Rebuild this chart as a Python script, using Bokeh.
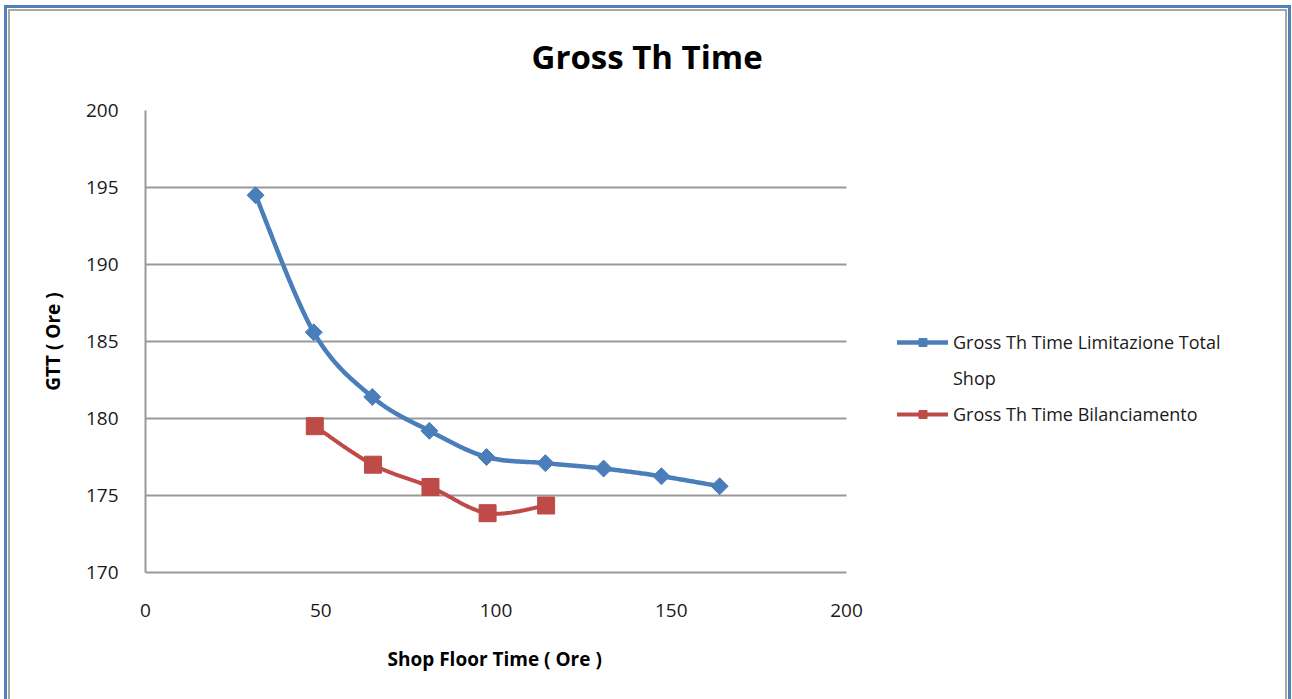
import numpy as np
from bokeh.plotting import figure
from bokeh.models import Legend, LegendItem, Range1d, SingleIntervalTicker, Title
from bokeh.embed import file_html
from bokeh.resources import INLINE

# ---- data ----
x_limit = [31.4, 48.0, 64.7, 81.0, 97.3, 114.1, 130.7, 147.2, 163.8]
y_limit = [194.5, 185.6, 181.4, 179.2, 177.5, 177.1, 176.75, 176.25, 175.6]
x_bil = [48.3, 64.9, 81.3, 97.6, 114.3]
y_bil = [179.5, 177.0, 175.55, 173.85, 174.35]
x_axis_range = (0, 200)
y_axis_range = (170, 200)

name_limit_1 = "Gross Th Time Limitazione Total"
name_limit_2 = "Shop"
name_bil = "Gross Th Time Bilanciamento"
title_text = "Gross Th Time"
x_title = "Shop Floor Time ( Ore )"
y_title = "GTT ( Ore )"

FONT = "Open Sans"
BLUE = "#4A7EBB"
RED = "#BE4B48"
GRID = "#999999"

# layout (pixels): plot area of the chart, and the wider frame that also hosts the legend
PLOT_LEFT, PLOT_RIGHT, PLOT_TOP, PLOT_BOTTOM = 145, 846, 110, 572
FRAME_RIGHT = 1284
W, H = 1292, 699


def smooth(xs, ys, n=40):
    """Excel-style smoothed line: cubic Bezier through the points."""
    xs = np.asarray(xs, float)
    ys = np.asarray(ys, float)
    px = np.concatenate([[xs[0]], xs, [xs[-1]]])
    py = np.concatenate([[ys[0]], ys, [ys[-1]]])
    ox, oy = [], []
    t = np.linspace(0, 1, n)
    for i in range(1, len(px) - 2):
        p0x, p0y = px[i], py[i]
        p3x, p3y = px[i + 1], py[i + 1]
        c1x = p0x + (px[i + 1] - px[i - 1]) / 6.0
        c1y = p0y + (py[i + 1] - py[i - 1]) / 6.0
        c2x = p3x - (px[i + 2] - px[i]) / 6.0
        c2y = p3y - (py[i + 2] - py[i]) / 6.0
        bx = ((1 - t) ** 3) * p0x + 3 * ((1 - t) ** 2) * t * c1x + 3 * (1 - t) * t ** 2 * c2x + t ** 3 * p3x
        by = ((1 - t) ** 3) * p0y + 3 * ((1 - t) ** 2) * t * c1y + 3 * (1 - t) * t ** 2 * c2y + t ** 3 * p3y
        ox.extend(bx.tolist())
        oy.extend(by.tolist())
    return ox, oy


x_end = x_axis_range[0] + (x_axis_range[1] - x_axis_range[0]) * (FRAME_RIGHT - PLOT_LEFT) / (PLOT_RIGHT - PLOT_LEFT)

p = figure(width=W, height=H, output_backend="svg", toolbar_location=None,
           x_range=Range1d(x_axis_range[0], x_end), y_range=Range1d(*y_axis_range),
           min_border_left=PLOT_LEFT, min_border_right=W - FRAME_RIGHT,
           min_border_top=PLOT_TOP, min_border_bottom=H - PLOT_BOTTOM)

p.border_fill_color = None
p.background_fill_color = None
p.outline_line_color = None

bg = ", ".join([
    "linear-gradient(#4F81BD,#4F81BD) 4px 5px / 1287px 3px no-repeat",
    "linear-gradient(#4F81BD,#4F81BD) 4px 5px / 3px 720px no-repeat",
    "linear-gradient(#4F81BD,#4F81BD) 1288px 5px / 3px 720px no-repeat",
    "linear-gradient(#A6A6A6,#A6A6A6) 8px 9px / 1279px 2px no-repeat",
    "linear-gradient(#A6A6A6,#A6A6A6) 8px 9px / 2px 720px no-repeat",
    "linear-gradient(#A6A6A6,#A6A6A6) 1285px 9px / 2px 720px no-repeat",
    "#ffffff",
])
p.styles = {"background": bg}

# title
p.title.text = title_text
p.title.text_font = FONT
p.title.text_font_style = "bold"
p.title.text_font_size = "33px"
p.title.text_color = "#000000"
p.title.align = "left"
p.title.offset = 386
p.title.standoff = 63

# axes
for ax in (p.xaxis[0], p.yaxis[0]):
    ax.axis_line_color = GRID
    ax.axis_line_width = 2
    ax.major_tick_line_color = None
    ax.minor_tick_line_color = None
    ax.major_tick_out = 0
    ax.major_tick_in = 0
    ax.major_label_text_font = FONT
    ax.major_label_text_font_size = "19px"
    ax.major_label_text_color = "#1A1A1A"
    ax.axis_label_text_font = FONT
    ax.axis_label_text_font_style = "bold"
    ax.axis_label_text_font_size = "19px"
    ax.axis_label_text_color = "#000000"

p.xaxis[0].ticker = SingleIntervalTicker(interval=50)
p.yaxis[0].ticker = SingleIntervalTicker(interval=5)
p.xaxis[0].bounds = x_axis_range
p.yaxis[0].axis_label = y_title
p.xaxis[0].major_label_standoff = 27
p.yaxis[0].major_label_standoff = 23
p.yaxis[0].axis_label_standoff = 17

# x-axis title, centred under the plot area (not the wider frame)
xt = Title(text=x_title, align="left", offset=242, standoff=49,
           text_font=FONT, text_font_style="bold", text_font_size="19px", text_color="#000000")
p.add_layout(xt, "below")

p.xgrid.grid_line_color = None
p.ygrid.grid_line_color = GRID
p.ygrid.grid_line_width = 2
try:
    p.ygrid.cross_bounds = x_axis_range
    p.ygrid.bounds = y_axis_range
except Exception:
    p.ygrid.grid_line_color = None
    gy = list(range(y_axis_range[0], y_axis_range[1] + 1, 5))
    p.segment([x_axis_range[0]] * len(gy), gy, [x_axis_range[1]] * len(gy), gy,
              line_color=GRID, line_width=2)

# series
sx1, sy1 = smooth(x_limit, y_limit)
sx2, sy2 = smooth(x_bil, y_bil)
l1 = p.line(sx1, sy1, line_color=BLUE, line_width=4.5, line_join="round", line_cap="round")
m1 = p.scatter(x_limit, y_limit, marker="square", angle=np.pi / 4, size=12,
               fill_color=BLUE, line_color=BLUE)
l2 = p.line(sx2, sy2, line_color=RED, line_width=4, line_join="round", line_cap="round")
m2 = p.scatter(x_bil, y_bil, marker="square", size=17, fill_color=RED, line_color=RED)
# invisible renderer that only carries the wrapped second line of the first legend label
wrap = p.line([], [], line_alpha=0)

legend = Legend(items=[LegendItem(label=name_limit_1, renderers=[l1, m1]),
                       LegendItem(label=name_limit_2, renderers=[wrap]),
                       LegendItem(label=name_bil, renderers=[l2, m2])],
                location=(897 - PLOT_LEFT, 146))
legend.border_line_color = None
legend.background_fill_alpha = 0
legend.padding = 0
legend.margin = 0
legend.glyph_width = 51
legend.glyph_height = 20
legend.label_height = 20
legend.label_standoff = 5
legend.spacing = 12
legend.label_text_font = FONT
legend.label_text_font_size = "18px"
legend.label_text_color = "#1A1A1A"
p.add_layout(legend)

open("out.html", "w").write(file_html(p, INLINE))
